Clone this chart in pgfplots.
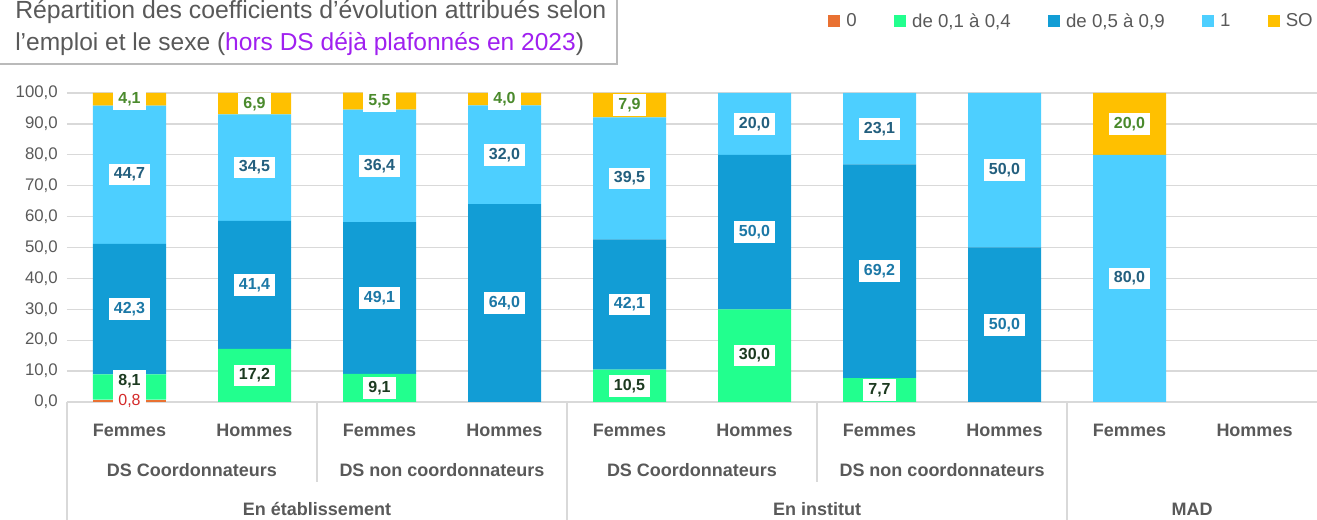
\documentclass[border=0pt]{standalone}
\usepackage{pgfplots}
\pgfplotsset{compat=1.18}
\usepackage{fontspec}
\setmainfont{Liberation Sans}
\usetikzlibrary{shadows}
\definecolor{c0}{HTML}{E97132}
\definecolor{c1}{HTML}{22FF8E}
\definecolor{c2}{HTML}{129DD5}
\definecolor{c3}{HTML}{4DCFFF}
\definecolor{c4}{HTML}{FFC000}
\definecolor{l0}{HTML}{D42A2A}
\definecolor{l1}{HTML}{1C3A20}
\definecolor{l2}{HTML}{1C78A6}
\definecolor{l3}{HTML}{235F7E}
\definecolor{l4}{HTML}{4A8A2C}
\definecolor{txt}{HTML}{595959}
\definecolor{gridc}{HTML}{D9D9D9}
\definecolor{tviolet}{HTML}{A020F0}
\tikzset{check for zero/.code={\pgfmathfloatifflags{\pgfplotspointmeta}{0}{\pgfkeys{/tikz/coordinate}}{}}}
\begin{document}
\begin{tikzpicture}[x=0.75pt,y=0.75pt]
\useasboundingbox (0,0) rectangle (1317,520);
\pgfkeys{/pgf/number format/.cd, fixed, fixed zerofill, precision=1, use comma, 1000 sep={}, assume math mode=true}
\begin{axis}[
  at={(50.25pt,88.5pt)}, anchor=south west,
  scale only axis, width=937.5pt, height=232.21pt,
  xmin=-0.5, xmax=9.5, ymin=0, ymax=100.2,
  ybar stacked, bar width=54.75pt,
  axis line style={draw=none},
  major tick length=0pt,
  ytick={0,10,...,100},
  ymajorgrids, grid style={draw=gridc, line width=1pt},
  xtick={0,...,9},
  xticklabels={Femmes,Hommes,Femmes,Hommes,Femmes,Hommes,Femmes,Hommes,Femmes,Hommes},
  xticklabel style={anchor=center, yshift=-21pt, font=\fontsize{13.5pt}{16pt}\selectfont\bfseries, text=txt},
  yticklabel style={anchor=east, inner sep=0pt, xshift=-6.75pt, font=\fontsize{12.6pt}{14pt}\selectfont, text=txt},
  nodes near coords,
  visualization depends on={\coordindex \as \ci},
  every node near coord/.append style={check for zero, anchor=center, fill=white, inner xsep=4pt, inner ysep=3pt,
     font=\fontsize{12pt}{14pt}\selectfont\bfseries},
  legend columns=5,
  legend cell align=left,
  legend image code/.code={\fill[#1] (0pt,-4.5pt) rectangle (9pt,4.5pt);},
  legend style={at={(0.9968,1.2298)}, anchor=east, draw=none, fill=none, inner sep=0pt,
     font=\fontsize{14pt}{16pt}\selectfont, text=txt, nodes={inner sep=0pt},
     /tikz/every even column/.append style={column sep=28pt},
     /tikz/every odd column/.append style={column sep=4.5pt}},
]
\addplot[fill=c0, draw=none, every node near coord/.append style={text=l0, font=\fontsize{12pt}{14pt}\selectfont}]
  coordinates {(0,0.8) (1,0) (2,0) (3,0) (4,0) (5,0) (6,0) (7,0) (8,0) (9,0)};
\addplot[fill=c1, draw=none, every node near coord/.append style={text=l1, yshift={ifthenelse(\ci==0,4.5,0)}}]
  coordinates {(0,8.1) (1,17.2) (2,9.1) (3,0) (4,10.5) (5,30.0) (6,7.7) (7,0) (8,0) (9,0)};
\addplot[fill=c2, draw=none, every node near coord/.append style={text=l2}]
  coordinates {(0,42.3) (1,41.4) (2,49.1) (3,64.0) (4,42.1) (5,50.0) (6,69.2) (7,50.0) (8,0) (9,0)};
\addplot[fill=c3, draw=none, every node near coord/.append style={text=l3}]
  coordinates {(0,44.7) (1,34.5) (2,36.4) (3,32.0) (4,39.5) (5,20.0) (6,23.1) (7,50.0) (8,80.0) (9,0)};
\addplot[fill=c4, draw=none, every node near coord/.append style={text=l4}]
  coordinates {(0,4.1) (1,6.9) (2,5.5) (3,4.0) (4,7.9) (5,0) (6,0) (7,0) (8,20.0) (9,0)};
\legend{0,{de 0,1 à 0,4},{de 0,5 à 0,9},1,SO}
\end{axis}
% category separators
\draw[gridc, line width=1pt] (67,118) -- (67,-10);
\draw[gridc, line width=1pt] (567,118) -- (567,-10);
\draw[gridc, line width=1pt] (1067,118) -- (1067,-10);
\draw[gridc, line width=1pt] (317,118) -- (317,38);
\draw[gridc, line width=1pt] (817,118) -- (817,38);
% group labels
\begin{scope}[every node/.style={anchor=base, inner sep=0pt, text=txt, font=\fontsize{13.5pt}{16pt}\selectfont\bfseries}]
\node at (192,43) {DS Coordonnateurs};
\node at (442,43) {DS non coordonnateurs};
\node at (692,43) {DS Coordonnateurs};
\node at (942,43) {DS non coordonnateurs};
\node at (317,4) {En établissement};
\node at (817,4) {En institut};
\node at (1192,4) {MAD};
\end{scope}
% title box
\path[fill=white, drop shadow={shadow xshift=1.5pt, shadow yshift=-1.5pt, opacity=0.45, fill=black!60}] (-10,457) rectangle (616,530);
\node[anchor=base west, inner sep=0pt, text=txt, font=\fontsize{18.6pt}{22pt}\selectfont] at (15,501) {Répartition des coefficients d'évolution attribués selon};
\node[anchor=base west, inner sep=0pt, text=txt, font=\fontsize{18.4pt}{22pt}\selectfont] at (15,469) {l'emploi et le sexe (\textcolor{tviolet}{hors DS déjà plafonnés en 2023})};
\end{tikzpicture}
\end{document}
